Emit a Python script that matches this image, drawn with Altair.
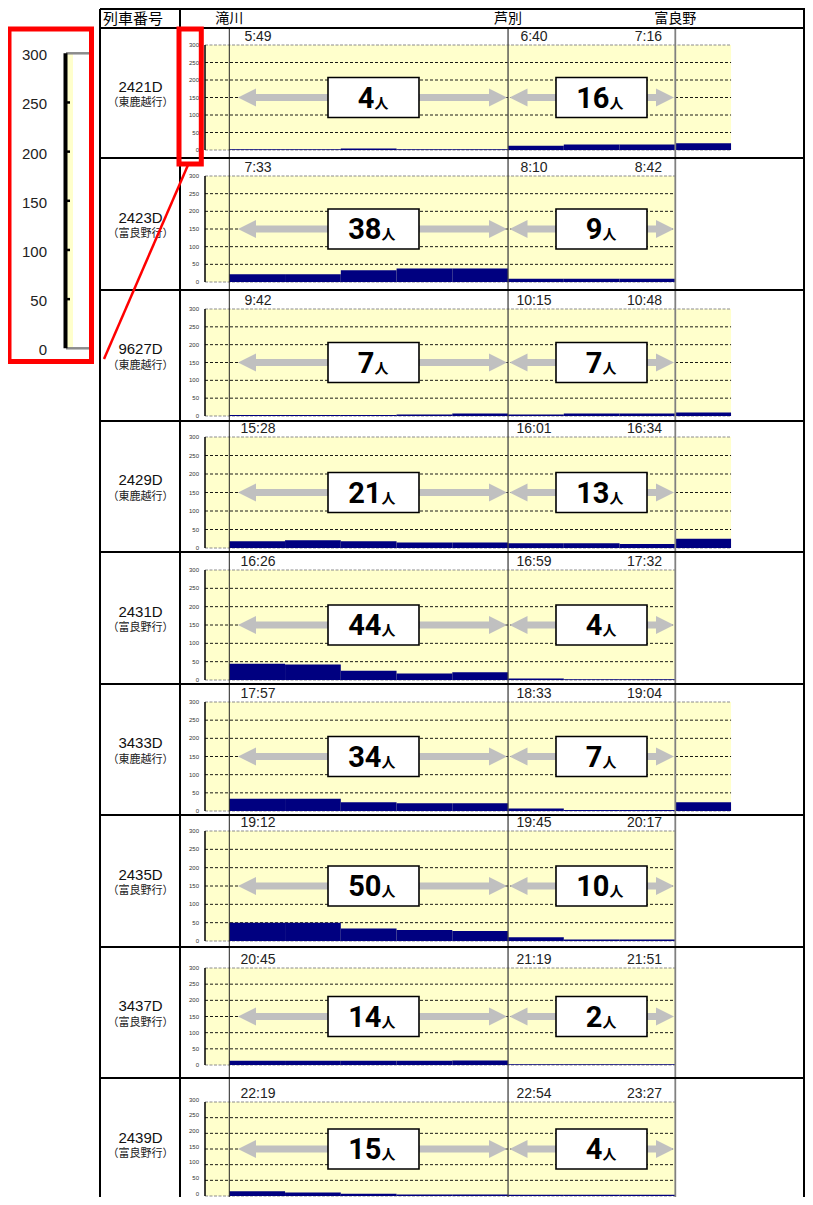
import altair as alt
import pandas as pd

# ---------------- data ----------------
trains = ["2421D", "2423D", "9627D", "2429D", "2431D", "3433D", "2435D", "3437D", "2439D"]
destinations = ["東鹿越行", "富良野行", "東鹿越行", "東鹿越行", "富良野行",
                "東鹿越行", "富良野行", "富良野行", "富良野行"]
time_takikawa = ["5:49", "7:33", "9:42", "15:28", "16:26", "17:57", "19:12", "20:45", "22:19"]
time_ashibetsu = ["6:40", "8:10", "10:15", "16:01", "16:59", "18:33", "19:45", "21:19", "22:54"]
time_furano = ["7:16", "8:42", "10:48", "16:34", "17:32", "19:04", "20:17", "21:51", "23:27"]
riders_takikawa_ashibetsu = [4, 38, 7, 21, 44, 34, 50, 14, 15]
riders_ashibetsu_furano = [16, 9, 7, 13, 4, 7, 10, 2, 4]
# passengers on each station-to-station segment
load_takikawa_ashibetsu = [
    [2, 2, 4, 2, 2], [22, 22, 33, 38, 38], [3, 3, 3, 4, 7], [18, 21, 18, 15, 15],
    [44, 42, 25, 18, 21], [34, 34, 24, 21, 21], [50, 50, 34, 30, 27],
    [13, 13, 13, 13, 14], [15, 11, 7, 5, 5]]
load_ashibetsu_furano = [
    [12, 16, 16], [9, 9, 9], [4, 7, 7], [13, 13, 11], [4, 2, 2], [7, 3, 3],
    [10, 4, 4], [2, 2, 2], [4, 4, 4]]
load_beyond_furano = [19, None, 10, 25, None, 24, None, None, None]
station_names = ["滝川", "芦別", "富良野"]
station_seg = [0, 5, 8]
y_ticks = [0, 50, 100, 150, 200, 250, 300]
header_label = "列車番号"

# ---------------- layout (reference pixels) ----------------
W, H = 797, 1189
OX = OY = 8
X_TAKI, SEG_PX = 229.3, 55.75


def u(xr):
    return (xr - X_TAKI) / SEG_PX


def px(xr):
    return xr - OX


def py(yr):
    return yr - OY


ROW_TOP = [28, 158, 290, 421, 552, 684, 815, 947, 1078]
ROW_BOT = ROW_TOP[1:] + [1210]
Y300 = [45, 176, 309, 437, 570, 702, 831, 968, 1102]
Y0 = [150, 282, 416, 548, 680, 811, 941, 1065, 1196]
AXIS_X = 205
ARROW_LEVEL = 150
ARROWS = [(238, 507, 373.5), (509.5, 674, 601.5)]
TIME_X = [258, 534, 662]
RIGHT_EDGE = min(px(812), W - 1)

X_SCALE = alt.Scale(domain=[u(OX), u(OX + W)], nice=False, zero=False)


def xq(f):
    return alt.X(f, type="quantitative", scale=X_SCALE, axis=None)


def xp(f):
    return alt.X(f, type="quantitative", scale=None, axis=None)


def yp(f):
    return alt.Y(f, type="quantitative", scale=None, axis=None)


JP = "Noto Sans CJK JP"
LAT = "Liberation Sans"


def row_layer(i):
    ys = alt.Scale(domain=[0, 300], range=[py(Y0[i]), py(Y300[i])], nice=False, zero=False)

    def yq(f):
        return alt.Y(f, type="quantitative", scale=ys, axis=None)

    end = 9 if destinations[i] == "東鹿越行" else 8
    ax = u(AXIS_X)
    frame = pd.DataFrame({"x0": [ax], "x1": [end], "lo": [0], "hi": [300]})
    ticks = pd.DataFrame({"v": y_ticks})
    ticks["x0"] = ax
    ticks["x1"] = end
    ticks["edge"] = ticks.v.isin([0, 300])
    vals = load_takikawa_ashibetsu[i] + load_ashibetsu_furano[i]
    if load_beyond_furano[i] is not None:
        vals = vals + [load_beyond_furano[i]]
    segs = pd.DataFrame({"x0": list(range(len(vals))), "v": vals})
    segs["x1"] = segs.x0 + 1
    segs["zero"] = 0
    sec = pd.DataFrame({
        "a0": [u(a[0]) for a in ARROWS], "a1": [u(a[1]) for a in ARROWS],
        "mid": [u(a[2]) for a in ARROWS],
        "n": [riders_takikawa_ashibetsu[i], riders_ashibetsu_furano[i]],
        "y": [ARROW_LEVEL, ARROW_LEVEL]})
    sec["s0"] = sec.a0 + 12 / SEG_PX
    sec["s1"] = sec.a1 - 12 / SEG_PX
    sec["label"] = sec.n.astype(str)
    times = pd.DataFrame({"x": [u(t) for t in TIME_X],
                          "t": [time_takikawa[i], time_ashibetsu[i], time_furano[i]],
                          "al": ["c", "c", "r"], "y": [300, 300, 300]})
    mid = (ROW_TOP[i] + ROW_BOT[i]) / 2
    names = pd.DataFrame({"name": [trains[i]], "dest": ["（" + destinations[i] + "）"],
                          "x": [px(140.5)], "y1": [py(mid - 6.5)], "y2": [py(mid + 10)]})
    tick_dy = -2.5 if i == len(trains) - 1 else 0

    layers = [
        alt.Chart(frame).mark_rect(fill="#FFFFCC").encode(x=xq("x0"), x2="x1", y=yq("hi"), y2="lo"),
        alt.Chart(ticks).transform_filter("datum.edge").mark_rule(
            color="#8c8c8c", strokeWidth=1, strokeDash=[3, 1.5]).encode(x=xq("x0"), x2="x1", y=yq("v")),
        alt.Chart(ticks).transform_filter("!datum.edge").mark_rule(
            color="black", strokeWidth=0.9, strokeDash=[3, 2]).encode(x=xq("x0"), x2="x1", y=yq("v")),
        alt.Chart(segs).mark_rect(color="#000080").encode(x=xq("x0"), x2="x1", y=yq("v"), y2="zero"),
        alt.Chart(frame).mark_rule(color="black", strokeWidth=1.5).encode(x=xq("x0"), y=yq("lo"), y2="hi"),
        alt.Chart(ticks).mark_text(align="right", baseline="middle", dx=-6, dy=tick_dy, fontSize=6,
                                   font=LAT, color="#333").encode(x=xq("x0"), y=yq("v"), text="v:Q"),
        alt.Chart(sec).mark_rule(color="#C0C0C0", strokeWidth=7).encode(x=xq("s0"), x2="s1", y=yq("y")),
        alt.Chart(sec).mark_point(shape="M0,0L2,-1L2,1Z", size=324, filled=True, color="#C0C0C0",
                                  opacity=1, strokeWidth=0).encode(x=xq("a0"), y=yq("y")),
        alt.Chart(sec).mark_point(shape="M0,0L-2,-1L-2,1Z", size=324, filled=True, color="#C0C0C0",
                                  opacity=1, strokeWidth=0).encode(x=xq("a1"), y=yq("y")),
        alt.Chart(sec).mark_point(shape="M-1,-0.44L1,-0.44L1,0.44L-1,0.44Z", size=8281, filled=True,
                                  fill="white", stroke="black", strokeWidth=1.6,
                                  opacity=1).encode(x=xq("mid"), y=yq("y")),
    ]
    for cond, dxv in [("datum.n < 10", 1), ("datum.n >= 10", 8)]:
        layers.append(alt.Chart(sec).transform_filter(cond).mark_text(
            font="Roboto", fontWeight="bold", fontSize=29, align="right", baseline="alphabetic",
            dx=dxv, dy=10, color="black").encode(x=xq("mid"), y=yq("y"), text="label:N"))
        layers.append(alt.Chart(sec).transform_filter(cond).mark_text(
            font=JP, fontWeight="bold", fontSize=14, align="left", baseline="alphabetic",
            dx=dxv, dy=10, color="black", text="人").encode(x=xq("mid"), y=yq("y")))
    layers.append(alt.Chart(times).transform_filter("datum.al == 'c'").mark_text(
        align="center", baseline="middle", dy=-8, fontSize=14, font=LAT, color="#222").encode(
        x=xq("x"), y=yq("y"), text="t:N"))
    layers.append(alt.Chart(times).transform_filter("datum.al == 'r'").mark_text(
        align="right", baseline="middle", dy=-8, fontSize=14, font=LAT, color="#222").encode(
        x=xq("x"), y=yq("y"), text="t:N"))
    layers.append(alt.Chart(names).mark_text(align="center", baseline="middle", fontSize=15,
                                             font=LAT, color="#111").encode(
        x=xp("x"), y=yp("y1"), text="name:N"))
    layers.append(alt.Chart(names).mark_text(align="center", baseline="middle", fontSize=11,
                                             font=JP, color="#222").encode(
        x=xp("x"), y=yp("y2"), text="dest:N"))
    return alt.layer(*layers)


rows = [row_layer(i) for i in range(len(trains))]

# ---------------- table frame and header ----------------
hl = pd.DataFrame({"y": [py(9)] + [py(t) for t in ROW_TOP], "x0": px(100), "x1": RIGHT_EDGE + 1})
vl = pd.DataFrame({"x": [px(100), px(180), RIGHT_EDGE], "y0": py(9), "y1": H})
st = pd.DataFrame({"s": station_seg, "name": station_names,
                   "col": ["#222222", "#444444", "#808080"], "w": [1, 1.3, 1.8],
                   "y0": py(28), "y1": H, "ty": py(18.5)})
head = pd.DataFrame({"t": [header_label], "x": [px(103)], "y": [py(18.5)]})

frame_layers = [
    alt.Chart(st).mark_rule().encode(x=xq("s"), y=yp("y0"), y2="y1",
                                     color=alt.Color("col:N", scale=None),
                                     strokeWidth=alt.StrokeWidth("w:Q", scale=None)),
    alt.Chart(hl).mark_rule(color="black", strokeWidth=2).encode(x=xp("x0"), x2="x1", y=yp("y")),
    alt.Chart(vl).mark_rule(color="black", strokeWidth=2).encode(x=xp("x"), y=yp("y0"), y2="y1"),
    alt.Chart(st).mark_text(align="center", baseline="middle", fontSize=14, font=JP,
                            color="black").encode(x=xq("s"), y=yp("ty"), text="name:N"),
    alt.Chart(head).mark_text(align="left", baseline="middle", fontSize=15, font=JP,
                              color="black").encode(x=xp("x"), y=yp("y"), text="t:N"),
]

# ---------------- enlarged axis inset ----------------
iys = alt.Scale(domain=[0, 300], range=[py(348.3), py(53.3)], nice=False, zero=False)


def iy(f):
    return alt.Y(f, type="quantitative", scale=iys, axis=None)


it = pd.DataFrame({"v": y_ticks})
it["edge"] = it.v.isin([0, 300])
ifr = pd.DataFrame({"lo": [0], "hi": [300]})
red_boxes = pd.DataFrame({"x0": [px(9), px(179)], "x1": [px(91.5), px(201.3)],
                          "y0": [py(29), py(29)], "y1": [py(361.5), py(164)]})
red_line = pd.DataFrame({"x0": [px(188)], "x1": [px(104)], "y0": [py(165)], "y1": [py(359)]})

inset_layers = [
    alt.Chart(ifr).mark_rect(fill="#FFFFCC").encode(x=alt.value(px(67)), x2=alt.value(px(73)),
                                                   y=iy("hi"), y2="lo"),
    alt.Chart(it).transform_filter("datum.edge").mark_rule(color="#8c8c8c", strokeWidth=2.5).encode(
        x=alt.value(px(66)), x2=alt.value(px(91)), y=iy("v")),
    alt.Chart(ifr).mark_rule(color="black", strokeWidth=4).encode(x=alt.value(px(65.5)), y=iy("lo"),
                                                                 y2="hi"),
    alt.Chart(it).transform_filter("!datum.edge").mark_rule(color="black", strokeWidth=2.5).encode(
        x=alt.value(px(65.5)), x2=alt.value(px(70)), y=iy("v")),
    alt.Chart(it).mark_text(align="right", baseline="middle", dy=2, fontSize=15, font=LAT,
                            color="#222").encode(x=alt.value(px(47)), y=iy("v"), text="v:Q"),
    alt.Chart(red_boxes).mark_rect(fillOpacity=0, stroke="#FF0000", strokeWidth=5).encode(
        x=xp("x0"), x2="x1", y=yp("y0"), y2="y1"),
    alt.Chart(red_line).mark_rule(color="#FF0000", strokeWidth=2.5).encode(
        x=xp("x0"), x2="x1", y=yp("y0"), y2="y1"),
]

chart = alt.layer(*rows, *frame_layers, *inset_layers).resolve_scale(
    y="independent").properties(
    width=W, height=H, autosize=alt.AutoSizeParams(type="none"), padding=0,
    background="white").configure_view(stroke=None)

chart.save("out.html", embed_options={"renderer": "svg", "actions": False})
